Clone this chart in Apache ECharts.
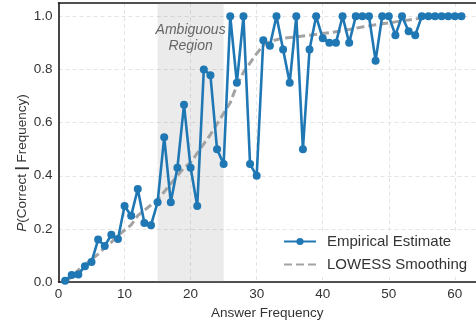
<!DOCTYPE html>
<html>
<head>
<meta charset="utf-8">
<script src="https://cdn.jsdelivr.net/npm/echarts@6/dist/echarts.min.js"></script>
<style>
html,body{margin:0;padding:0;background:#fff;}
#chart{width:476px;height:325px;}
</style>
</head>
<body>
<div id="chart"></div>
<script>
// Answer frequency (x) values
var frequencies = [1,2,3,4,5,6,7,8,9,10,11,12,13,14,15,16,17,18,19,20,21,22,23,24,25,26,27,28,29,30,31,32,33,34,35,36,37,38,39,40,41,42,43,44,45,46,47,48,49,50,51,52,53,54,55,56,57,58,59,60,61];
// Empirical estimate P(Correct | Frequency)
var empirical = [0.005,0.027,0.029,0.06,0.076,0.16,0.136,0.178,0.162,0.286,0.25,0.35,0.222,0.214,0.30,0.545,0.30,0.43,0.667,0.43,0.286,0.80,0.778,0.50,0.444,1.0,0.75,1.0,0.444,0.40,0.91,0.889,1.0,0.875,0.75,1.0,0.50,0.875,1.0,0.917,0.90,0.90,1.0,0.90,1.0,1.0,1.0,0.833,1.0,1.0,0.929,1.0,0.944,0.929,1.0,1.0,1.0,1.0,1.0,1.0,1.0];
// LOWESS smoothing values
var lowess = [0.00,0.02,0.045,0.065,0.085,0.105,0.13,0.15,0.175,0.195,0.215,0.25,0.27,0.29,0.31,0.34,0.37,0.40,0.43,0.45,0.485,0.52,0.555,0.595,0.635,0.675,0.74,0.79,0.825,0.86,0.89,0.905,0.912,0.918,0.92,0.923,0.926,0.929,0.932,0.935,0.938,0.942,0.946,0.95,0.955,0.96,0.964,0.968,0.972,0.975,0.979,0.983,0.986,0.99,0.993,0.996,0.998,1.0,1.002,1.004,1.006];
var ambiguousRange = [15, 25];
var xTicks = [0,10,20,30,40,50,60];
var yTicks = [0.0,0.2,0.4,0.6,0.8,1.0];

var FONT = '"Liberation Sans", Arial, sans-serif';
var TXT = '#333';

function pairs(xs, ys){ return xs.map(function(x,i){ return [x, ys[i]]; }); }

var chart = echarts.init(document.getElementById('chart'), null, {renderer:'canvas'});
var option = {
  animation: false,
  backgroundColor: '#fff',
  textStyle: {fontFamily: FONT},
  grid: {left: 58.5, right: 0, top: 3, bottom: 39, containLabel: false},
  graphic: [{
    type: 'text', x: 22, y: 163, rotation: Math.PI / 2, silent: true,
    style: {
      text: '{i|P}(Correct {b||} Frequency)',
      align: 'center', verticalAlign: 'middle',
      fontFamily: FONT, fontSize: 13.5, fill: TXT,
      rich: {i: {fontStyle: 'italic', fontFamily: FONT, fontSize: 13.5, fill: TXT, color: TXT},
             b: {fontWeight: 'bold', fontFamily: FONT, fontSize: 14, fill: TXT, color: TXT}}
    }
  }],
  legend: {
    data: ['Empirical Estimate', {name: 'LOWESS Smoothing', itemStyle: {opacity: 0}}],
    orient: 'vertical',
    left: 277, top: 231,
    padding: [2, 6, 4, 6],
    backgroundColor: '#fff',
    itemWidth: 32, itemHeight: 9, itemGap: 6,
    textStyle: {fontFamily: FONT, fontSize: 15, color: TXT, lineHeight: 17, padding: [0,0,0,6]}
  },
  xAxis: [{
    type: 'value', min: 0, max: 63.2, interval: 10, position: 'bottom',
    name: 'Answer Frequency', nameLocation: 'middle', nameGap: 21,
    nameTextStyle: {fontFamily: FONT, fontSize: 13.5, color: TXT},
    axisLine: {show: true, onZero: false, lineStyle: {color: '#1a1a1a', width: 1.6}},
    axisTick: {show: false},
    axisLabel: {margin: 5, fontFamily: FONT, fontSize: 13.5, color: TXT, showMaxLabel: false,
      formatter: function(v){ return xTicks.indexOf(v) >= 0 ? String(v) : ''; }},
    splitLine: {show: true, lineStyle: {color: '#e4e4e4', width: 1, type: [4,3]}}
  },{
    type: 'value', min: 0, max: 63.2, position: 'top',
    axisLine: {show: true, onZero: false, lineStyle: {color: '#1a1a1a', width: 1.6}},
    axisTick: {show: false}, axisLabel: {show: false}, splitLine: {show: false}
  }],
  yAxis: {
    type: 'value', min: 0, max: 1.05, interval: 0.2,
    axisLine: {show: true, onZero: false, lineStyle: {color: '#1a1a1a', width: 1.6}},
    axisTick: {show: false},
    axisLabel: {margin: 6, fontFamily: FONT, fontSize: 13.5, color: TXT, showMaxLabel: false,
      formatter: function(v){ return yTicks.some(function(t){return Math.abs(t-v)<1e-9;}) ? v.toFixed(1) : ''; }},
    splitLine: {show: true, lineStyle: {color: '#e4e4e4', width: 1, type: [4,3]}}
  },
  series: [{
    name: 'LOWESS Smoothing', type: 'line', xAxisIndex: 0, z: 2,
    data: pairs(frequencies, lowess),
    symbol: 'none', smooth: false,
    itemStyle: {color: '#a3a3a3'},
    lineStyle: {color: '#a3a3a3', width: 3, type: [8,4]},
    markArea: {
      silent: true,
      itemStyle: {color: 'rgba(128,128,128,0.16)'},
      label: {show: true, position: 'insideTop', distance: 19,
        formatter: 'Ambiguous\nRegion', fontFamily: FONT, fontSize: 14, fontStyle: 'italic',
        color: '#666', lineHeight: 16},
      data: [[{xAxis: ambiguousRange[0]}, {xAxis: ambiguousRange[1]}]]
    }
  },{
    name: 'Empirical Estimate', type: 'line', xAxisIndex: 0, z: 3,
    data: pairs(frequencies, empirical),
    symbol: 'circle', symbolSize: 8, showAllSymbol: true,
    itemStyle: {color: '#1f77b4'},
    lineStyle: {color: '#1f77b4', width: 2.6}
  }]
};
chart.setOption(option);
</script>
</body>
</html>
